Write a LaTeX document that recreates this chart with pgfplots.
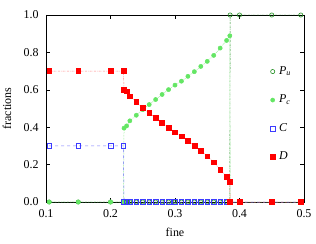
\documentclass[border=0pt]{standalone}
\usepackage{pgfplots}
\pgfplotsset{compat=1.18}
\usepackage{fontspec}
\setmainfont{Liberation Serif}
\definecolor{puc}{RGB}{30,140,30}
\definecolor{pcc}{RGB}{100,230,100}
\definecolor{cc}{RGB}{60,60,255}
\definecolor{dc}{RGB}{255,0,0}
\begin{document}
\begin{tikzpicture}
\begin{axis}[
  scale only axis, width=258bp, height=187bp,
  xmin=0.1, xmax=0.5, ymin=0, ymax=1.0,
  xtick={0.1,0.2,0.3,0.4,0.5}, ytick={0,0.2,0.4,0.6,0.8,1.0},
  xticklabel style={yshift=-4bp, /pgf/number format/.cd, fixed, fixed zerofill, precision=1},
  yticklabel style={xshift=-4bp, /pgf/number format/.cd, fixed, fixed zerofill, precision=1},
  /pgf/number format/assume math mode=true,
  tick align=inside, tick pos=both, major tick length=4bp,
  minor tick num=0,
  axis line style={line width=0.8pt},
  every tick/.style={black, line width=0.6pt},
  font=\fontsize{12}{14}\selectfont,
  xlabel={fine}, ylabel={fractions},
  every axis x label/.style={at={(axis description cs:0.5,-0.16)}, anchor=center},
  every axis y label/.style={at={(axis description cs:-0.151,0.5)}, rotate=90, anchor=center},
  legend style={draw=none, fill=none, at={(0.857,0.744)}, anchor=north west,
    row sep=15.5bp, column sep=3bp, font=\fontsize{12}{14}\selectfont,
    nodes={text height=8bp, text depth=3bp, inner sep=1bp}},
  legend cell align=left,
  legend image code/.code={\draw plot coordinates {(0.1cm,0cm)};},
  clip=false,
]
\addlegendimage{only marks, color=puc, mark=o, mark size=2.1bp, mark options={line width=0.6pt}}
\addlegendentry{\textit{P}\textsubscript{\textit{u}}}
\addlegendimage{only marks, color=pcc, mark=*, mark size=2.1bp}
\addlegendentry{\textit{P}\textsubscript{\textit{c}}}
\addlegendimage{only marks, color=cc, mark=square, mark size=2.3bp, mark options={line width=0.6pt}}
\addlegendentry{\textit{C}}
\addlegendimage{only marks, color=dc, mark=square*, mark size=2.4bp}
\addlegendentry{\textit{D}}
% Pu
\addplot[forget plot, color=puc, line width=0.4pt, dash pattern=on 2pt off 1pt on 0.5pt off 1pt, mark=o, mark size=2.1bp, mark options={solid, line width=0.6pt, fill=white}] coordinates {
(0.105,0)(0.15,0)(0.2,0)(0.22,0)(0.221,0)(0.225,0)(0.23,0)(0.24,0)(0.25,0)(0.26,0)(0.27,0)(0.28,0)(0.29,0)(0.30,0)(0.31,0)(0.32,0)(0.33,0)(0.34,0)(0.35,0)(0.36,0)(0.37,0)(0.38,0)(0.385,0)(0.3855,1)(0.4,1)(0.45,1)(0.495,1)};
% Pc
\addplot[forget plot, color=pcc, line width=0.5pt, densely dotted, mark=*, mark size=2.1bp, mark options={solid, fill=pcc, draw=pcc}] coordinates {
(0.105,0)(0.15,0)(0.2,0)(0.22,0)(0.221,0.395)(0.225,0.407)(0.23,0.434)(0.24,0.464)(0.25,0.494)(0.26,0.521)(0.27,0.548)(0.28,0.575)(0.29,0.601)(0.30,0.625)(0.31,0.646)(0.32,0.672)(0.33,0.697)(0.34,0.725)(0.35,0.752)(0.36,0.784)(0.37,0.823)(0.38,0.864)(0.385,0.889)(0.3855,0)(0.4,0)(0.45,0)(0.495,0)};
% C
\addplot[forget plot, color=cc!70, line width=0.5pt, dashed, mark=square, mark size=2.3bp, mark options={solid, draw=cc, line width=0.6pt}] coordinates {
(0.105,0.3)(0.15,0.3)(0.2,0.3)(0.22,0.3)(0.221,0)(0.225,0)(0.23,0)(0.24,0)(0.25,0)(0.26,0)(0.27,0)(0.28,0)(0.29,0)(0.30,0)(0.31,0)(0.32,0)(0.33,0)(0.34,0)(0.35,0)(0.36,0)(0.37,0)(0.38,0)(0.385,0)(0.3855,0)(0.4,0)(0.45,0)(0.495,0)};
% D
\addplot[forget plot, color=dc!50, line width=0.5pt, dash pattern=on 2pt off 1pt on 0.5pt off 1pt, mark=square*, mark size=2.4bp, mark options={solid, fill=dc, draw=dc}] coordinates {
(0.105,0.7)(0.15,0.7)(0.2,0.7)(0.22,0.7)(0.221,0.601)(0.225,0.592)(0.23,0.565)(0.24,0.535)(0.25,0.503)(0.26,0.476)(0.27,0.45)(0.28,0.425)(0.29,0.398)(0.30,0.373)(0.31,0.352)(0.32,0.327)(0.33,0.302)(0.34,0.274)(0.35,0.245)(0.36,0.213)(0.37,0.174)(0.38,0.135)(0.385,0.11)(0.3855,0)(0.4,0)(0.45,0)(0.495,0)};
\end{axis}
\pgfresetboundingbox
\path (current axis.south west) ++(-46bp,-42bp) rectangle ++(316bp,244bp);
\end{tikzpicture}
\end{document}
